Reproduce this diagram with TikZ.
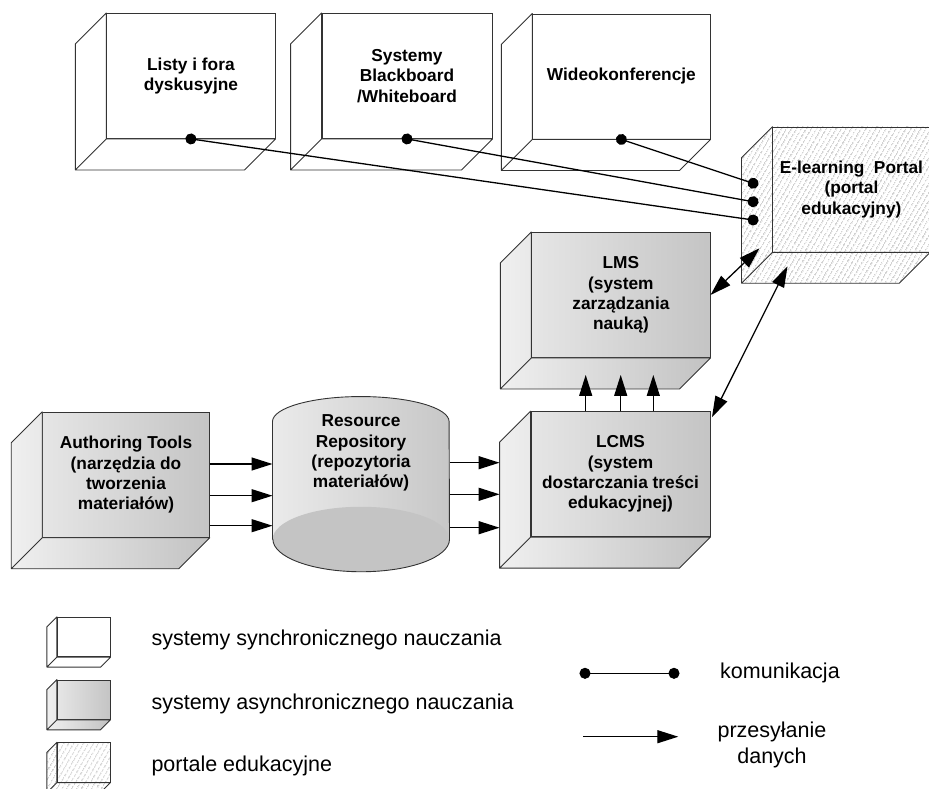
\documentclass[tikz,border=0pt]{standalone}
\usepackage{fontspec}
\setmainfont{Liberation Sans}
\usetikzlibrary{
	arrows.meta,
	calc,
	patterns.meta
}
\tikzset{
	boxtext/.style={font=\bfseries\fontsize{17.3}{20.3}\selectfont, align=center},
	legtext/.style={font=\fontsize{21.5}{26.5}\selectfont},
	face/.style={boxtext, draw=black!80, line width=0.9pt, inner sep=0pt, minimum height=125pt},
	syncface/.style={face, fill=white},
	asyncface/.style={face, left color=black!10, right color=black!23},
	portalface/.style={face, pattern={Lines[angle=60,distance=4pt,line width=0.5pt]}, pattern color=black!50},
	syncside/.style={draw=black!80, line width=0.9pt, line join=round, fill=white},
	asyncside/.style={draw=black!80, line width=0.9pt, line join=round, left color=black!6, right color=black!24},
	portalside/.style={draw=black!80, line width=0.9pt, line join=round, pattern={Lines[angle=60,distance=4pt,line width=0.5pt]}, pattern color=black!50},
	flow/.style={-{Triangle[length=21pt,width=13pt]}, line width=1.3pt},
	twoway/.style={{Triangle[length=21pt,width=13pt]}-{Triangle[length=21pt,width=13pt]}, line width=1.3pt},
	comm/.style={{Circle[length=11pt]}-{Circle[length=11pt]}, line width=1.3pt, shorten <=-5.5pt, shorten >=-5.5pt}
}

\begin{document}
\begin{tikzpicture}[x=1pt, y=-1pt]
	\useasboundingbox (0,0) rectangle (929,789);
	% systemy synchroniczne
	\node[syncface, minimum width=168.3pt] (listy) at (190.9,76) {Listy i fora\\dyskusyjne};
	\node[syncface, minimum width=170pt] (blackboard) at (407,76) {Systemy\\Blackboard\\/Whiteboard};
	\node[syncface, minimum width=177.3pt] (wideo) at (621.4,76.5) {Wideokonferencje};
	% portal
	\node[portalface, minimum width=157.3pt] (portal) at (851.4,189.5) {E-learning~~Portal\\(portal\\edukacyjny)};
	% systemy asynchroniczne
	\node[asyncface, minimum width=178.3pt] (lms) at (620.9,295) {LMS\\(system\\zarządzania\\nauką)};
	\node[asyncface, minimum width=179pt] (lcms) at (620.5,474.2) {LCMS\\(system\\dostarczania treści\\edukacyjnej)};
	\node[asyncface, minimum width=166.6pt] (author) at (126,474.8) {Authoring Tools\\(narzędzia do\\tworzenia\\materiałów)};
	% legenda
	\node[syncface, minimum width=52.7pt, minimum height=39.4pt] (legsync) at (83.7,637) {};
	\node[asyncface, minimum width=52.7pt, minimum height=39.4pt] (legasync) at (83.7,699.7) {};
	\node[portalface, minimum width=52.7pt, minimum height=39.4pt] (legportal) at (83.7,762.4) {};

	\foreach \n/\d in {listy/31, blackboard/31, wideo/31, legsync/10}
		\draw[syncside] (\n.north west) -- ++(-\d,\d) -- ($(\n.south west)+(-\d,\d)$) -- ($(\n.south east)+(-\d,\d)$) -- (\n.south east) -- (\n.south west) -- cycle
			(\n.south west) -- ++(-\d,\d);
	\foreach \n/\d in {lms/31, lcms/31, author/31, legasync/10}
		\draw[asyncside] (\n.north west) -- ++(-\d,\d) -- ($(\n.south west)+(-\d,\d)$) -- ($(\n.south east)+(-\d,\d)$) -- (\n.south east) -- (\n.south west) -- cycle
			(\n.south west) -- ++(-\d,\d);
	\foreach \n/\d in {portal/31, legportal/10}
		\draw[portalside] (\n.north west) -- ++(-\d,\d) -- ($(\n.south west)+(-\d,\d)$) -- ($(\n.south east)+(-\d,\d)$) -- (\n.south east) -- (\n.south west) -- cycle
			(\n.south west) -- ++(-\d,\d);

	% repozytorium
	\node[inner sep=0pt, minimum width=176.6pt, minimum height=117.3pt] (repo) at (361,480.4) {};
	\shade[left color=black!8, right color=black!22] (repo.south west) -- (repo.north west)
		arc[start angle=180, end angle=0, x radius=88.3pt, y radius=25pt] -- (repo.south east)
		arc[start angle=0, end angle=-180, x radius=88.3pt, y radius=32.5pt] -- cycle;
	\fill[black!23] (repo.south) ellipse[x radius=88.3pt, y radius=32.5pt];
	\draw[black!80, line width=0.9pt] (repo.south west) -- (repo.north west)
		arc[start angle=180, end angle=0, x radius=88.3pt, y radius=25pt] -- (repo.south east)
		arc[start angle=0, end angle=-180, x radius=88.3pt, y radius=32.5pt] -- cycle;
	\node[boxtext] (repotext) at (361,453) {Resource\\Repository\\(repozytoria\\materiałów)};

	% przesylanie danych
	\foreach \y in {464,495.7,525.7}
		\draw[flow] (author.east |- 0,\y) -- (repo.west |- 0,\y);
	\foreach \y in {462.7,494.3,527.7}
		\draw[flow] (repo.east |- 0,\y) -- ($(lcms.west |- 0,\y)+(-31,0)$);
	\foreach \x in {585.7,620.7,653.3}
		\draw[flow] (\x,0 |- lcms.north) -- ($(\x,0 |- lms.south)+(0,17)$);
	\draw[twoway] (lms.east) -- ($(portal.south west)+(-13,-4)$);
	\draw[twoway] ($(lcms.north east)+(1.5,6)$) -- ($(portal.south west)+(15,14)$);

	% komunikacja
	\coordinate (pin1) at ($(portal.west)+(-19.4,-6.2)$);
	\coordinate (pin2) at ($(portal.west)+(-19.4,12.2)$);
	\coordinate (pin3) at ($(portal.west)+(-19.4,30.5)$);
	\draw[comm] (wideo.south) -- (pin1);
	\draw[comm] (blackboard.south) -- (pin2);
	\draw[comm] (listy.south) -- (pin3);

	% legenda - opisy
	\node[legtext, anchor=base west] (legsynctext) at (148,645.7) {systemy synchronicznego nauczania};
	\node[legtext, anchor=base west] (legasynctext) at (148,709.3) {systemy asynchronicznego nauczania};
	\node[legtext, anchor=base west] (legportaltext) at (148,771.7) {portale edukacyjne};
	\node[legtext, anchor=base west] (legcomm) at (716.7,678.3) {komunikacja};
	\node[legtext, align=center] (legflow) at (772,745) {przesyłanie\\danych};
	\coordinate (commA) at (585,673.3);
	\coordinate (commB) at (674,673.3);
	\coordinate (flowA) at (583.3,736.7);
	\coordinate (flowB) at (678.3,736.7);
	\draw[comm] (commA) -- (commB);
	\draw[flow] (flowA) -- (flowB);
\end{tikzpicture}
\end{document}
